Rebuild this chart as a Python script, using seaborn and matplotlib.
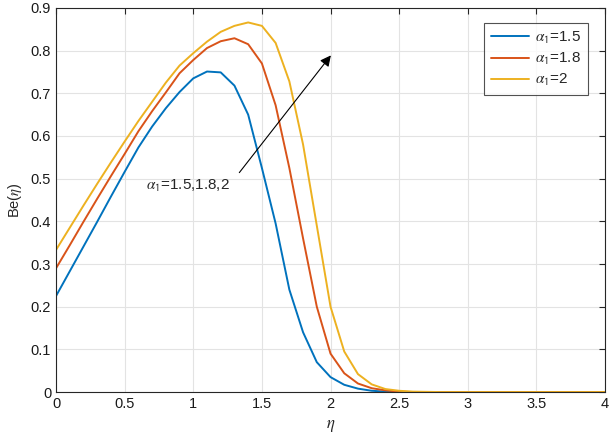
import numpy as np
import pandas as pd
import matplotlib
matplotlib.use("Agg")
import matplotlib.pyplot as plt
import seaborn as sns

# eta grid and Be(eta)
eta = [0.0, 0.1, 0.2, 0.3, 0.4, 0.5, 0.6, 0.7, 0.8, 0.9,
       1.0, 1.1, 1.2, 1.3, 1.4, 1.5, 1.6, 1.7, 1.8, 1.9,
       2.0, 2.1, 2.2, 2.3, 2.4, 2.5, 2.6, 2.8, 3.0, 3.2,
       3.4, 3.6, 3.8, 4.0]

be_15 = [0.225, 0.283, 0.341, 0.399, 0.458, 0.516, 0.573, 0.622, 0.665, 0.703,
         0.735, 0.751, 0.749, 0.718, 0.650, 0.525, 0.395, 0.240, 0.140, 0.070,
         0.035, 0.017, 0.008, 0.003, 0.001, 0.0, 0.0, 0.0, 0.0, 0.0,
         0.0, 0.0, 0.0, 0.0]

be_18 = [0.290, 0.344, 0.399, 0.453, 0.506, 0.558, 0.611, 0.658, 0.702, 0.747,
         0.778, 0.806, 0.822, 0.829, 0.815, 0.770, 0.672, 0.525, 0.360, 0.200,
         0.090, 0.044, 0.020, 0.009, 0.004, 0.001, 0.0, 0.0, 0.0, 0.0,
         0.0, 0.0, 0.0, 0.0]

be_20 = [0.333, 0.385, 0.437, 0.488, 0.538, 0.587, 0.635, 0.680, 0.725, 0.765,
         0.794, 0.821, 0.844, 0.858, 0.866, 0.858, 0.818, 0.728, 0.580, 0.390,
         0.200, 0.095, 0.042, 0.018, 0.007, 0.003, 0.001, 0.0, 0.0, 0.0,
         0.0, 0.0, 0.0, 0.0]

series_names = [r'$\alpha_{\mathsf{1}}$=1.5', r'$\alpha_{\mathsf{1}}$=1.8',
                r'$\alpha_{\mathsf{1}}$=2']
colors = ['#0072BD', '#D95319', '#EDB120']

xticks = [0, 0.5, 1, 1.5, 2, 2.5, 3, 3.5, 4]
xtick_labels = ['0', '0.5', '1', '1.5', '2', '2.5', '3', '3.5', '4']
yticks = [0, 0.1, 0.2, 0.3, 0.4, 0.5, 0.6, 0.7, 0.8, 0.9]
ytick_labels = ['0', '0.1', '0.2', '0.3', '0.4', '0.5', '0.6', '0.7', '0.8', '0.9']

df = pd.concat([
    pd.DataFrame({'eta': eta, 'Be': vals, 'case': name})
    for vals, name in zip([be_15, be_18, be_20], series_names)
])

sns.set_style("white")
plt.rcParams['font.family'] = ['Liberation Sans', 'DejaVu Sans']
plt.rcParams['mathtext.fontset'] = 'stix'

fig = plt.figure(figsize=(6.11, 4.41), dpi=100)
ax = fig.add_axes([0.0917, 0.111, 0.8985, 0.871])

sns.lineplot(data=df, x='eta', y='Be', hue='case', palette=colors,
             linewidth=1.4, ax=ax, legend=False)

ax.set_xlim(0, 4)
ax.set_ylim(0, 0.9)
ax.set_xticks(xticks)
ax.set_xticklabels(xtick_labels)
ax.set_yticks(yticks)
ax.set_yticklabels(ytick_labels)
ax.grid(True, color='#e3e3e3', linewidth=0.8)
ax.set_axisbelow(True)
ax.tick_params(direction='in', top=True, right=True, length=4,
               color='#262626', labelsize=10.5, labelcolor='#1a1a1a')
for s in ax.spines.values():
    s.set_color('#262626')
    s.set_linewidth(0.8)

ax.set_xlabel(r'$\eta$', fontsize=12, labelpad=5)
ax.set_ylabel(r'Be($\eta$)', fontsize=10.5, labelpad=5)

leg = ax.legend(ax.get_lines()[:3], series_names, loc='upper right',
                bbox_to_anchor=(0.969, 0.962), fontsize=11, frameon=True,
                fancybox=False, edgecolor='#262626', handlelength=2.5,
                handletextpad=0.4, borderpad=0.45, labelspacing=0.35,
                borderaxespad=0)
leg.get_frame().set_linewidth(0.8)

ax.annotate('', xy=(2.015, 0.794), xytext=(1.323, 0.509),
            arrowprops=dict(arrowstyle='-|>', color='k', lw=0.8,
                            mutation_scale=16))
ax.text(0.965, 0.482, r'$\alpha_{\mathsf{1}}$=1.5,1.8,2', ha='center',
        va='center', fontsize=11)

fig.savefig('out.png', dpi=100)
